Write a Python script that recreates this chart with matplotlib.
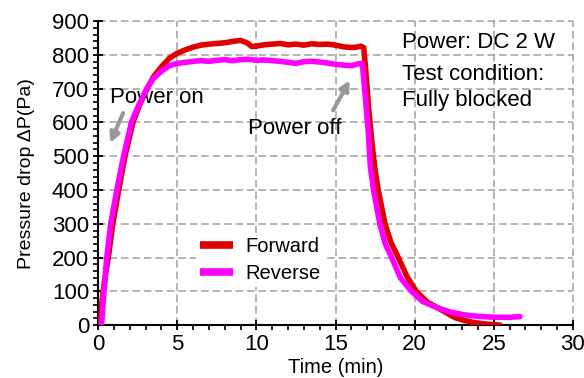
import matplotlib
matplotlib.use("Agg")
import matplotlib.pyplot as plt
from matplotlib.ticker import MultipleLocator

plt.rcParams['font.family'] = ['Liberation Sans', 'DejaVu Sans']

# Forward series (time in min, pressure drop in Pa)
fwd_t = [0.12, 0.25, 0.4, 0.65, 0.93, 1.3, 1.7, 2.2, 2.6, 3.1, 3.5, 4.0, 4.5,
         5.0, 5.5, 6.0, 6.5, 7.0, 7.5, 8.0, 8.5, 9.0, 9.3, 9.5, 9.7, 10.0, 10.5,
         11.0, 11.5, 12.0, 12.5, 13.0, 13.5, 14.0, 14.5, 15.0, 15.5, 16.0, 16.3,
         16.6, 16.78, 16.9, 17.1, 17.3, 17.5, 17.7, 18.13, 18.5, 18.97, 19.5,
         20.1, 20.8, 21.5, 22.55, 23.2, 23.8, 24.5, 25.4]
fwd_p = [0, 70, 130, 202, 301, 400, 500, 600, 650, 700, 735, 765, 790,
         805, 815, 823, 829, 832, 834, 836, 840, 843, 838, 833, 825, 826, 830,
         832, 834, 830, 832, 829, 833, 831, 832, 829, 824, 822, 823,
         826, 822, 760, 640, 540, 459, 400, 300, 245, 200, 145,
         100, 68, 50, 22, 13, 7, 3, 0]

# Reverse series
rev_t = [0.2, 0.23, 0.3, 0.38, 0.55, 0.8, 1.18, 1.6, 2.1, 2.55, 3.07, 3.5, 4.0, 4.5,
         5.0, 5.5, 6.0, 6.5, 7.0, 7.5, 8.0, 8.5, 9.0, 9.5, 10.0, 10.5, 11.0, 11.5,
         12.0, 12.5, 13.0, 13.5, 14.0, 14.5, 15.0, 15.5, 16.0, 16.3, 16.6, 16.7,
         16.88, 17.06, 17.2, 17.4, 17.8, 18.15, 18.55, 19.1, 19.8, 20.5, 21.5,
         22.3, 23.2, 24.0, 25.1, 26.0, 26.65]
rev_p = [0, 6, 55, 104, 202, 301, 400, 498, 600, 650, 700, 730, 752, 768,
         775, 778, 781, 783, 781, 784, 786, 783, 786, 787, 784, 785, 783, 781,
         778, 775, 780, 781, 779, 776, 772, 770, 768, 772, 775, 772,
         676, 577, 470, 400, 300, 240, 200, 140, 100, 70, 50,
         38, 30, 26, 23, 23, 25]

series_labels = ["Forward", "Reverse"]
x_ticks = [0, 5, 10, 15, 20, 25, 30]
y_ticks = [0, 100, 200, 300, 400, 500, 600, 700, 800, 900]

fig = plt.figure(figsize=(5.84, 3.78), dpi=100)
ax = fig.add_axes([0.168, 0.140, 0.813, 0.804])

ax.plot(fwd_t, fwd_p, color='#e00000', lw=4, label=series_labels[0],
        solid_capstyle='round', solid_joinstyle='round', zorder=3)
ax.plot(rev_t, rev_p, color='#ff00ff', lw=4, label=series_labels[1],
        solid_capstyle='round', solid_joinstyle='round', zorder=4)

ax.set_xlim(0, 30)
ax.set_ylim(0, 900)
ax.set_xticks(x_ticks)
ax.set_yticks(y_ticks)
ax.xaxis.set_minor_locator(MultipleLocator(1))
ax.yaxis.set_minor_locator(MultipleLocator(20))

ax.grid(True, which='major', color='#a0a0a0', lw=1.1, linestyle=(0, (5, 2.5)))
for gl in ax.get_xgridlines() + ax.get_ygridlines():
    gl.set_clip_on(False)
ax.set_axisbelow(True)

for s in ['top', 'right']:
    ax.spines[s].set_visible(False)
for s in ['left', 'bottom']:
    ax.spines[s].set_linewidth(1.5)

ax.tick_params(which='major', direction='inout', length=7, width=1.3,
               labelsize=16, pad=3)
ax.tick_params(which='minor', direction='out', length=3.5, width=1.2)
ax.tick_params(axis='both', colors='black')

ax.set_xlabel('Time (min)', fontsize=14.5, labelpad=2)
ax.set_ylabel('Pressure drop ΔP(Pa)', fontsize=14, labelpad=12)

ax.text(0.76, 675, 'Power on', fontsize=16, va='center', ha='left')
ax.text(9.47, 583, 'Power off', fontsize=16, va='center', ha='left')
ax.text(19.2, 838, 'Power: DC 2 W', fontsize=16, va='center', ha='left')
ax.text(19.2, 743, 'Test condition:', fontsize=16, va='center', ha='left')
ax.text(19.2, 666, 'Fully blocked', fontsize=16, va='center', ha='left')

arrow = dict(arrowstyle='-|>', color='#999999', lw=3, mutation_scale=14,
             shrinkA=0, shrinkB=0)
ax.annotate('', xy=(0.76, 539), xytext=(1.58, 628), arrowprops=arrow)
ax.annotate('', xy=(15.9, 725), xytext=(14.85, 636), arrowprops=arrow)

leg = ax.legend(loc='upper left', bbox_to_anchor=(0.206, 0.302),
                fontsize=14.5, frameon=True, framealpha=1, edgecolor='none',
                facecolor='white', borderpad=0.2, borderaxespad=0,
                handlelength=1.64, handletextpad=0.6, labelspacing=0.38)
leg.get_frame().set_linewidth(0)
for h in leg.legend_handles:
    h.set_linewidth(5.5)
    h.set_solid_capstyle('butt')

fig.savefig('out.png', dpi=100)
